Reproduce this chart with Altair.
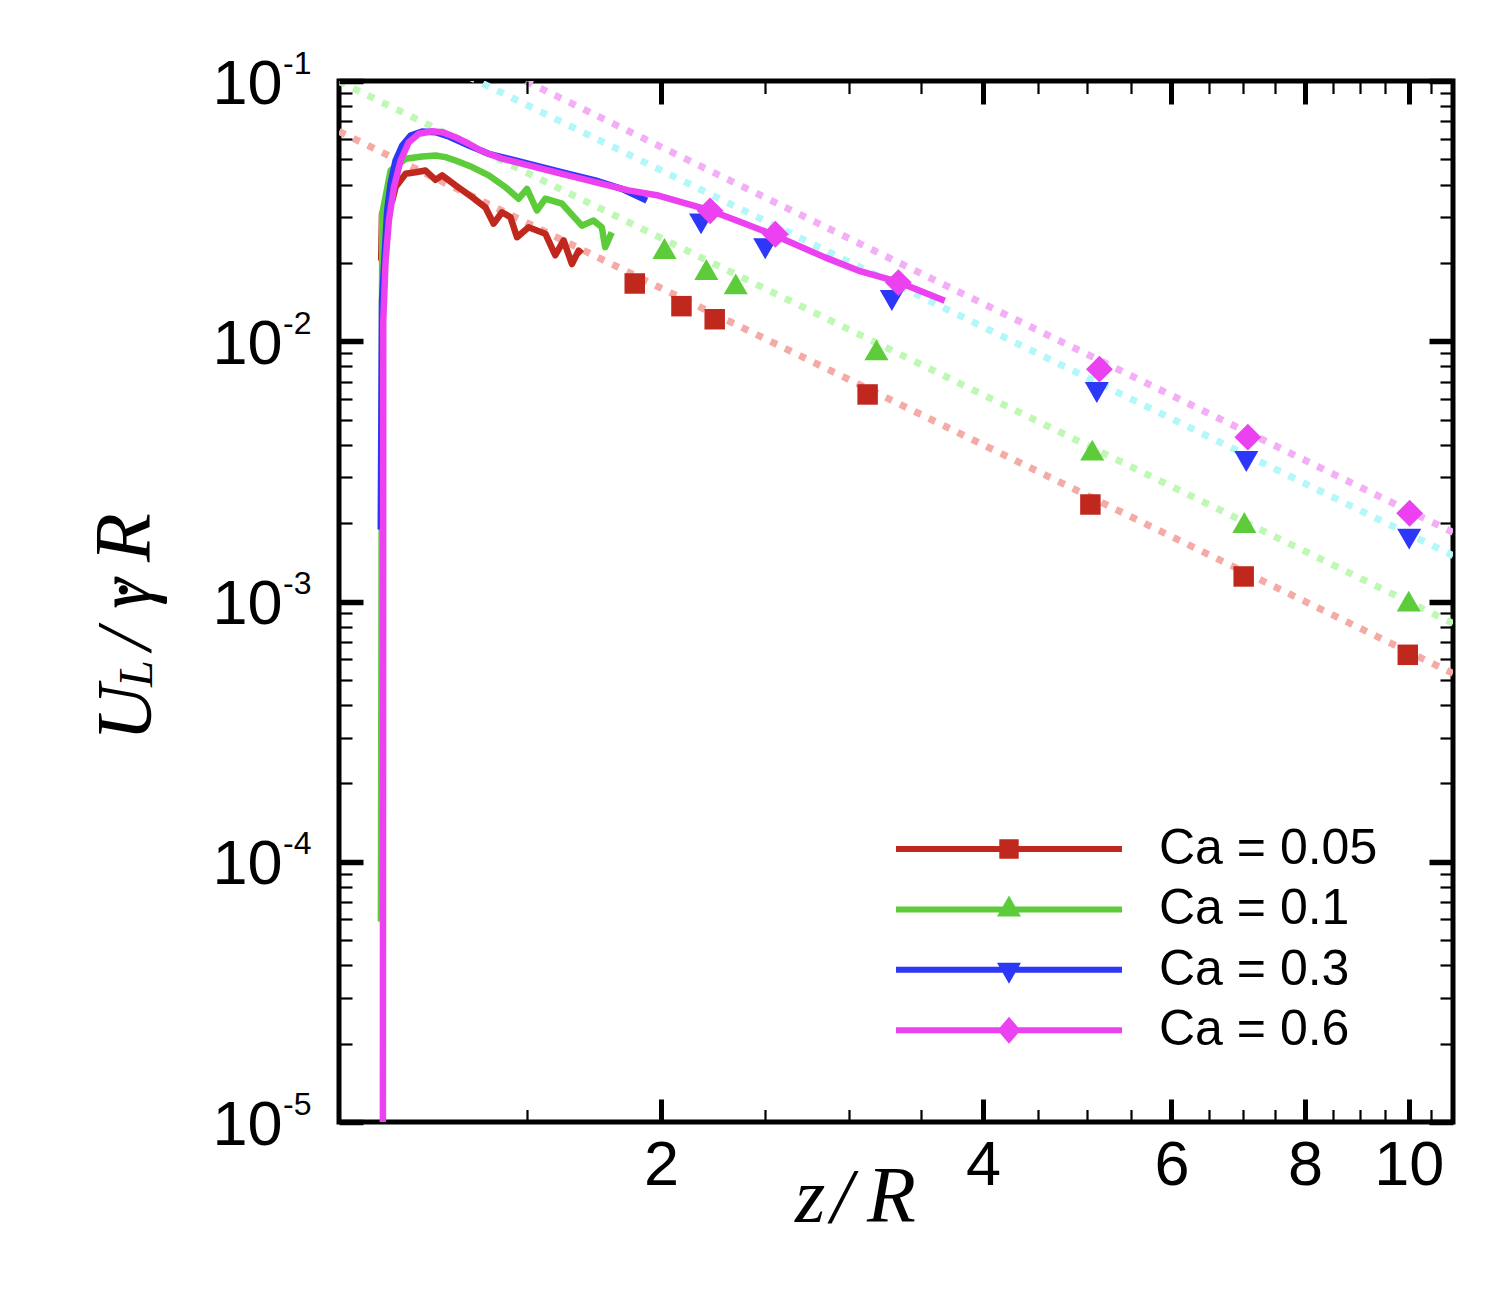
import altair as alt
import pandas as pd

# ---------------- data ----------------
labels = ["Ca = 0.05", "Ca = 0.1", "Ca = 0.3", "Ca = 0.6"]
main_colors = ["#C0281E", "#5CCC3B", "#2D37F8", "#EB41F0"]
fit_colors = ["#F4ABA6", "#BFF8B4", "#B2F7FA", "#F3AEF6"]

# simulation curves
z_red = [1.095, 1.097, 1.1214, 1.1295, 1.1541, 1.1791, 1.2047, 1.2309, 1.2486, 1.2851, 1.3317,
         1.3703, 1.3950, 1.4203, 1.4462, 1.4670, 1.5040, 1.5592, 1.5929, 1.6218, 1.6509, 1.6749, 1.6866]
U_red = [0.0204, 0.0309, 0.0347, 0.0391, 0.0440, 0.0446, 0.0453, 0.0417, 0.0434, 0.0397, 0.0358,
         0.0327, 0.0283, 0.0313, 0.0300, 0.0251, 0.0274, 0.0259, 0.0214, 0.0244, 0.0198, 0.0223, 0.0217]
z_green = [1.0944, 1.0975, 1.1175, 1.1541, 1.1960, 1.2309, 1.2576, 1.2851, 1.3317, 1.3803, 1.4307,
           1.4723, 1.4988, 1.5310, 1.5592, 1.6158, 1.6866, 1.7294, 1.7606, 1.7735, 1.7989]
U_green = [5.9e-5, 0.0309, 0.0453, 0.0503, 0.0513, 0.0517, 0.0510, 0.0495, 0.0467, 0.0434, 0.0391,
           0.0353, 0.0385, 0.0318, 0.0353, 0.0338, 0.0278, 0.0291, 0.0274, 0.0230, 0.0262]
z_blue = [1.094, 1.097, 1.1093, 1.1175, 1.1295, 1.1458, 1.1665, 1.1960, 1.2309, 1.2666, 1.3223,
          1.3803, 1.4616, 1.5476, 1.6392, 1.7357, 1.8383, 1.9397]
U_blue = [0.00189, 0.0143, 0.0318, 0.0403, 0.0495, 0.0565, 0.0617, 0.0640, 0.0636, 0.0612, 0.0565,
          0.0525, 0.0495, 0.0467, 0.0440, 0.0415, 0.0385, 0.0347]
z_mag = [1.099, 1.100, 1.1055, 1.1134, 1.1255, 1.1417, 1.1622, 1.1874, 1.2220, 1.2486, 1.2851, 1.3223,
         1.3606, 1.4203, 1.5040, 1.6158, 1.7357, 1.8650, 1.9890, 2.2233, 2.3966, 2.5560, 2.8466,
         3.0575, 3.3321, 3.6833]
U_mag = [5e-6, 0.012, 0.0204, 0.0291, 0.0391, 0.0495, 0.0582, 0.0627, 0.0641, 0.0636, 0.0608, 0.0574,
         0.0537, 0.0503, 0.0474, 0.0440, 0.0409, 0.0380, 0.0363, 0.0318, 0.0283, 0.0255, 0.0210,
         0.0187, 0.0169, 0.0143]

# markers
mz_red = [1.89, 2.09, 2.245, 3.12, 5.04, 7.01, 9.98]
mU_red = [0.01667, 0.01364, 0.01215, 0.006245, 0.002359, 0.001248, 0.000624]
mz_green = [2.015, 2.205, 2.349, 3.18, 5.06, 7.02, 10.0]
mU_green = [0.02272, 0.01887, 0.01662, 0.00927, 0.003814, 0.002011, 0.001003]
mz_blue = [2.18, 2.503, 3.287, 5.11, 7.05, 10.01]
mU_blue = [0.02826, 0.02266, 0.01434, 0.006357, 0.00345, 0.001736]
mz_mag = [2.223, 2.558, 3.334, 5.139, 7.073, 10.02]
mU_mag = [0.03171, 0.02578, 0.01681, 0.00781, 0.004279, 0.002184]

# dotted power-law guide lines (end points)
fit_z = [1.0, 11.0]
fit_red = [0.0640, 0.000529]
fit_green = [0.0997, 0.000824]
fit_cyan = [0.1815, 0.0015]
fit_mag = [0.2233, 0.001845]

# axes
x_domain = [1.0, 11.0]
y_domain = [1e-5, 1e-1]
x_major = [2, 4, 6, 8, 10]
x_major_labels = ["2", "4", "6", "8", "10"]
x_minor = [1.5, 2.5, 3, 3.5, 4.5, 5, 5.5, 6.5, 7, 7.5, 8.5, 9, 9.5, 10.5]
y_major = [1e-5, 1e-4, 1e-3, 1e-2, 1e-1]
y_major_exp = [-5, -4, -3, -2, -1]
y_major_base = ["10", "10", "10", "10", "10"]
y_major_sup = ["-5", "-4", "-3", "-2", "-1"]
y_minor = [k * 10.0 ** e for e in [-5, -4, -3, -2] for k in range(2, 10)]

x_title_parts = ["z", "/", "R"]
y_title_parts = ["U", "L", "/", "γ", "·", "R"]

# ---------------- tables ----------------
curve_rows = []
for lab, zs, us in zip(labels, [z_red, z_green, z_blue, z_mag], [U_red, U_green, U_blue, U_mag]):
    for i, (z, u) in enumerate(zip(zs, us)):
        curve_rows.append({"series": lab, "z": z, "U": u, "i": i})
curves = pd.DataFrame(curve_rows)

marker_rows = []
for lab, zs, us in zip(labels, [mz_red, mz_green, mz_blue, mz_mag], [mU_red, mU_green, mU_blue, mU_mag]):
    for z, u in zip(zs, us):
        marker_rows.append({"series": lab, "z": z, "U": u})
markers = pd.DataFrame(marker_rows)

fit_rows = []
for lab, us in zip(labels, [fit_red, fit_green, fit_cyan, fit_mag]):
    for z, u in zip(fit_z, us):
        fit_rows.append({"series": lab, "z": z, "U": u})
fits = pd.DataFrame(fit_rows)

legend_df = pd.DataFrame({"series": labels})

# ---------------- styling ----------------
W, H = 1114, 1041
xs = alt.Scale(type="log", domain=x_domain, nice=False)
ys = alt.Scale(type="log", domain=y_domain, nice=False)
cscale = alt.Scale(domain=labels, range=main_colors)

SANS = "Liberation Sans"
SERIF = "Liberation Serif"


def x_expr(texts):
    return " : ".join(f"round(datum.value) == {v} ? '{t}'" for v, t in zip(x_major, texts)) + " : ''"


def y_expr(texts):
    return " : ".join(
        f"round(log(datum.value) / LN10) == {e} ? '{t}'" for e, t in zip(y_major_exp, texts)) + " : ''"


fit_layer = alt.Chart(fits).mark_line(strokeDash=[7, 9], strokeWidth=7, clip=True).encode(
    x=alt.X("z:Q", scale=xs, axis=None),
    y=alt.Y("U:Q", scale=ys, axis=None),
    stroke=alt.Stroke("series:N", scale=alt.Scale(domain=labels, range=fit_colors), legend=None),
)

curve_layer = alt.Chart(curves).mark_line(strokeWidth=6.5, clip=True, strokeJoin="round").encode(
    x=alt.X("z:Q", scale=xs, axis=None),
    y=alt.Y("U:Q", scale=ys, axis=None),
    color=alt.Color("series:N", scale=cscale, legend=None),
    order=alt.Order("i:Q"),
)

shapes = ["square", "triangle-up", "triangle-down", "diamond"]
sizes = [420, 580, 580, 720]
marker_layers = []
for lab, shp, sz in zip(labels, shapes, sizes):
    marker_layers.append(
        alt.Chart(markers).transform_filter(alt.datum.series == lab)
        .mark_point(shape=shp, filled=True, size=sz, opacity=1, strokeWidth=0)
        .encode(
            x=alt.X("z:Q", scale=xs, axis=None),
            y=alt.Y("U:Q", scale=ys, axis=None),
            color=alt.Color("series:N", scale=cscale, legend=None),
        )
    )

line_part = "M-11.3,-0.3H11.3V0.3H-11.3Z"
legend_paths = [
    line_part + "M-0.97,-0.97H0.97V0.97H-0.97Z",
    line_part + "M0,-1.4L1.2,0.7L-1.2,0.7Z",
    line_part + "M-1.2,-0.7L1.2,-0.7L0,1.4Z",
    line_part + "M0,-1.35L1.15,0L0,1.35L-1.15,0Z",
]
leg = alt.Legend(
    orient="none", legendX=645, legendY=743, title=None, direction="vertical",
    symbolSize=400, symbolStrokeWidth=0, symbolOpacity=1,
    labelFont=SANS, labelFontSize=50, labelColor="black", labelOffset=125, labelLimit=500,
    rowPadding=10.4, padding=0,
)
# invisible (off-canvas) points that only carry the legend
legend_layer = alt.Chart(legend_df).mark_point(filled=True, opacity=1, size=400).encode(
    x=alt.value(-3000),
    y=alt.value(-3000),
    color=alt.Color("series:N", scale=cscale, legend=leg),
    shape=alt.Shape("series:N", scale=alt.Scale(domain=labels, range=legend_paths), legend=leg),
)


def axis_layer(xaxis, yaxis):
    return alt.Chart(markers).mark_point(opacity=0).encode(
        x=alt.X("z:Q", scale=xs, axis=xaxis),
        y=alt.Y("U:Q", scale=ys, axis=yaxis),
    )


def tick_axis(orient, values, length, width):
    return alt.Axis(orient=orient, values=values, labels=False, domain=False, grid=False,
                    ticks=True, tickSize=length, tickWidth=width, tickColor="black",
                    offset=-length, title=None, zindex=1)


label_x = alt.Axis(orient="bottom", values=x_major, labelExpr=x_expr(x_major_labels), ticks=False,
                   domain=False, grid=False, labelFont=SANS, labelFontSize=63, labelColor="black",
                   labelPadding=12, labelFlush=False, labelOverlap=False, title=None)
label_y_base = alt.Axis(orient="left", values=y_major, labelExpr=y_expr(y_major_base), ticks=False,
                        domain=False, grid=False, labelFont=SANS, labelFontSize=63, labelColor="black",
                        labelPadding=57, labelOffset=3, labelFlush=False, labelOverlap=False,
                        title=None, labelLimit=400)
label_y_sup = alt.Axis(orient="left", values=y_major, labelExpr=y_expr(y_major_sup), ticks=False,
                       domain=False, grid=False, labelFont=SANS, labelFontSize=32, labelColor="black",
                       labelPadding=28, labelOffset=-18, labelFlush=False, labelOverlap=False,
                       title=None, labelLimit=400)

axis_layers = [
    axis_layer(label_x, label_y_base),
    axis_layer(None, label_y_sup),
    axis_layer(tick_axis("bottom", x_major, 23, 5), tick_axis("left", y_major, 24, 5.5)),
    axis_layer(tick_axis("bottom", x_minor, 12.5, 2.2), tick_axis("left", y_minor, 13, 2.2)),
    axis_layer(tick_axis("top", x_major, 23, 5), tick_axis("right", y_major, 24, 5.5)),
    axis_layer(tick_axis("top", x_minor, 12.5, 2.2), tick_axis("right", y_minor, 13, 2.2)),
]


def text_layer(txt, x, y, size, angle=0, align="left", baseline="alphabetic"):
    return alt.Chart(pd.DataFrame({"t": [txt]})).mark_text(
        font=SERIF, fontSize=size, fontStyle="italic", align=align, baseline=baseline,
        angle=angle, color="black"
    ).encode(x=alt.value(x), y=alt.value(y), text="t:N")


title_layers = [
    text_layer(x_title_parts[0], 456, 1141, 78),
    text_layer(x_title_parts[1], 492, 1141, 78),
    text_layer(x_title_parts[2], 528, 1141, 80),
    text_layer(y_title_parts[0], -189, 660, 78, angle=270),
    text_layer(y_title_parts[1], -187, 606, 48, angle=270),
    text_layer(y_title_parts[2], -189, 569, 78, angle=270),
    text_layer(y_title_parts[3], -189, 528, 78, angle=270),
    text_layer(y_title_parts[4], -213, 510, 78, angle=270, align="center", baseline="middle"),
    text_layer(y_title_parts[5], -189, 481, 80, angle=270),
]

chart = alt.layer(
    legend_layer, fit_layer, curve_layer, *marker_layers, *axis_layers, *title_layers
).resolve_axis(x="independent", y="independent").resolve_legend(
    color="independent", shape="independent"
).properties(
    width=W, height=H,
    padding={"left": 331, "top": 73, "right": 30, "bottom": 150},
    autosize=alt.AutoSizeParams(type="none"),
).configure_view(stroke="black", strokeWidth=5)

chart.save("out.html", embed_options={"renderer": "svg", "actions": False})
